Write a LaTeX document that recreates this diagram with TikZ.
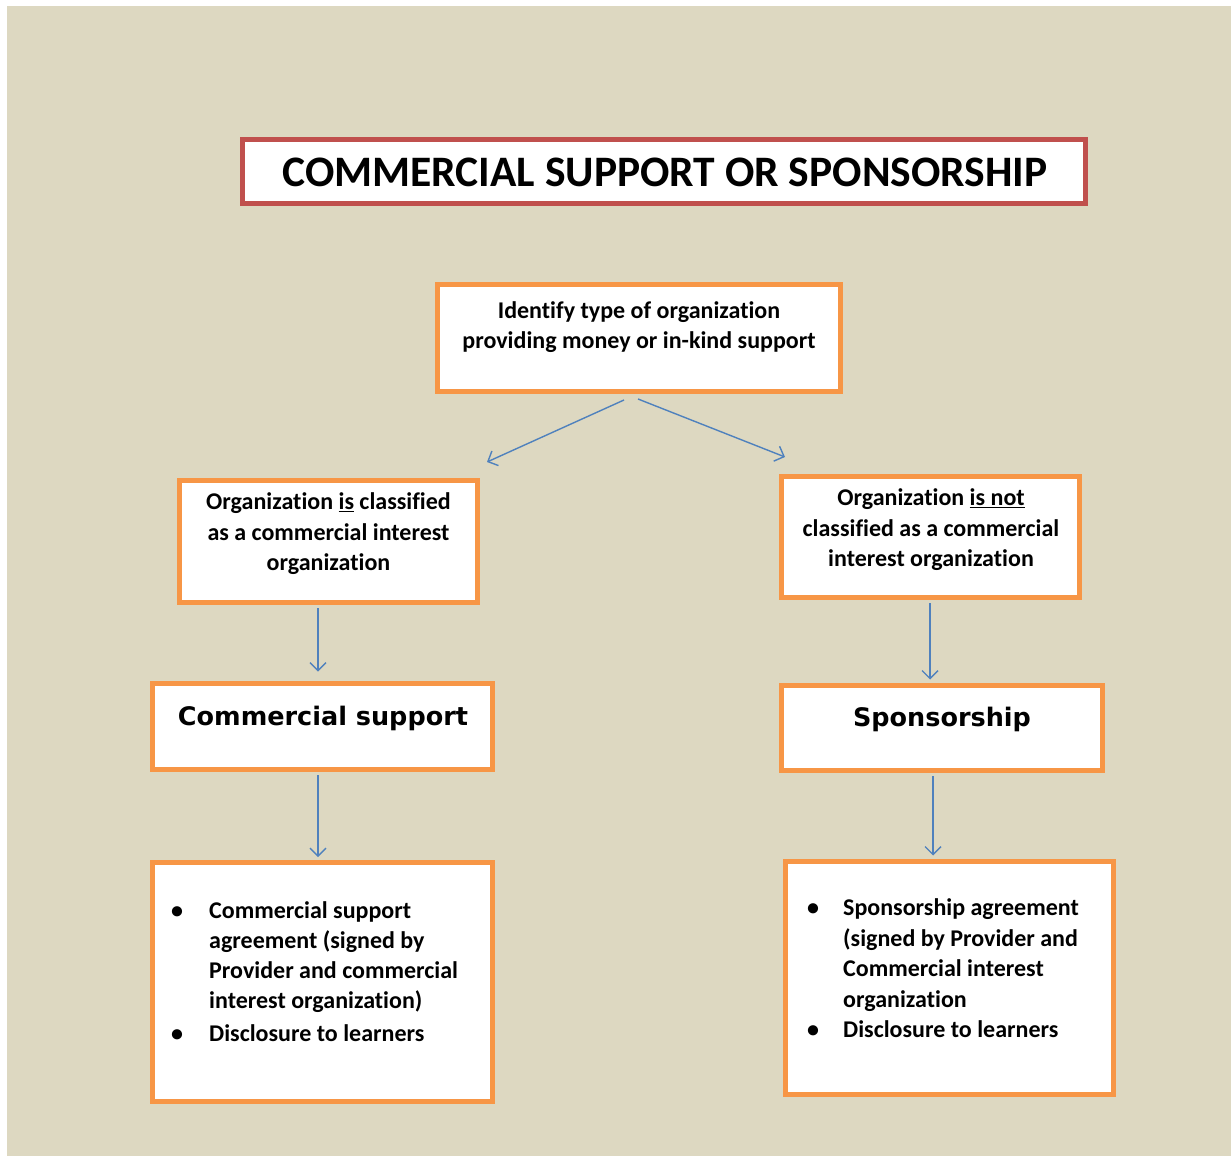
\documentclass[tikz,border=0pt]{standalone}
\usepackage{fontspec}
\setmainfont{Carlito}[Ligatures=NoCommon]
\newfontfamily\verd{DejaVu Sans}
\usetikzlibrary{arrows.meta,calc}
\definecolor{bgbeige}{RGB}{221,216,193}
\definecolor{boxorange}{RGB}{247,150,70}
\definecolor{titlered}{RGB}{192,80,77}
\definecolor{arrowblue}{RGB}{79,129,189}
\begin{document}
\begin{tikzpicture}[x=1pt,y=-1pt,
  box/.style={draw=boxorange,line width=5pt,fill=white,inner sep=0pt},
  txt/.style={font=\bfseries\fontsize{24}{30.5}\selectfont,align=center,inner sep=0pt},
  bigtxt/.style={font=\verd\bfseries\fontsize{25.5}{30}\selectfont,inner sep=0pt},
  arr/.style={draw=arrowblue,line width=1.4pt,-{Straight Barb[length=8pt,width=16pt]}}]
\useasboundingbox (0,0) rectangle (1231,1156);
\fill[bgbeige] (7,6) rectangle (1231,1156);

% title
\node[draw=titlered,line width=5pt,fill=white,minimum width=843pt,minimum height=64pt,inner sep=0pt] (title) at (664,171.5) {};
\node[font=\bfseries\fontsize{43.5}{50}\selectfont,inner sep=0pt] (titlet) at (665,172) {COMMERCIAL SUPPORT OR SPONSORSHIP};

% identify
\node[box,minimum width=403pt,minimum height=107pt] (id) at (639,338) {};
\node[txt] (idt) at (639,327) {Identify type of organization\\providing money or in-kind support};

% classification boxes
\node[box,minimum width=298pt,minimum height=122pt] (c1) at (328.5,541.5) {};
\node[txt] (c1t) at (328.5,534) {Organization \underline{is} classified\\as a commercial interest\\organization};
\node[box,minimum width=298pt,minimum height=121pt] (c2) at (930.5,537) {};
\node[txt] (c2t) at (931,530) {Organization \underline{is not}\\classified as a commercial\\interest organization};

% outcome boxes
\node[box,minimum width=340pt,minimum height=86pt] (cs) at (322.5,726.5) {};
\node[bigtxt] (cst) at (323,718) {Commercial support};
\node[box,minimum width=321pt,minimum height=85pt] (sp) at (942,728) {};
\node[bigtxt] (spt) at (942,719) {Sponsorship};

% bullet boxes
\node[box,minimum width=340pt,minimum height=239pt] (lb) at (322.5,982) {};
\node[anchor=north west,inner sep=0pt,font=\bfseries\fontsize{24}{30}\selectfont] (lbt) at (171,897) {%
\begin{tabular}{@{}p{38pt}@{}l@{}}
\textbullet & Commercial support\\
 & agreement (signed by\\
 & Provider and commercial\\
 & interest organization)\\[3pt]
\textbullet & Disclosure to learners
\end{tabular}};
\node[box,minimum width=328pt,minimum height=233pt] (rb) at (949.5,978) {};
\node[anchor=north west,inner sep=0pt,font=\bfseries\fontsize{24}{30.5}\selectfont] (rbt) at (807,894) {%
\begin{tabular}{@{}p{36pt}@{}l@{}}
\textbullet & Sponsorship agreement\\
 & (signed by Provider and\\
 & Commercial interest\\
 & organization\\
\textbullet & Disclosure to learners
\end{tabular}};

% connectors
\draw[arr] ($(id.south)+(-15,6)$) -- ($(c1.north)+(158.5,-16)$);
\draw[arr] ($(id.south)+(-1,5)$) -- ($(c2.north)+(-145.5,-17)$);
\draw[arr] ($(c1.south)+(-10.5,3)$) -- ($(cs.north)+(-4.5,-9.5)$);
\draw[arr] ($(c2.south)+(-0.5,3)$) -- ($(sp.north)+(-12,-3.5)$);
\draw[arr] ($(cs.south)+(-4.5,3)$) -- ($(lb.north)+(-4.5,-3)$);
\draw[arr] ($(sp.south)+(-9,3)$) -- ($(rb.north)+(-16.5,-3.5)$);
\end{tikzpicture}
\end{document}
